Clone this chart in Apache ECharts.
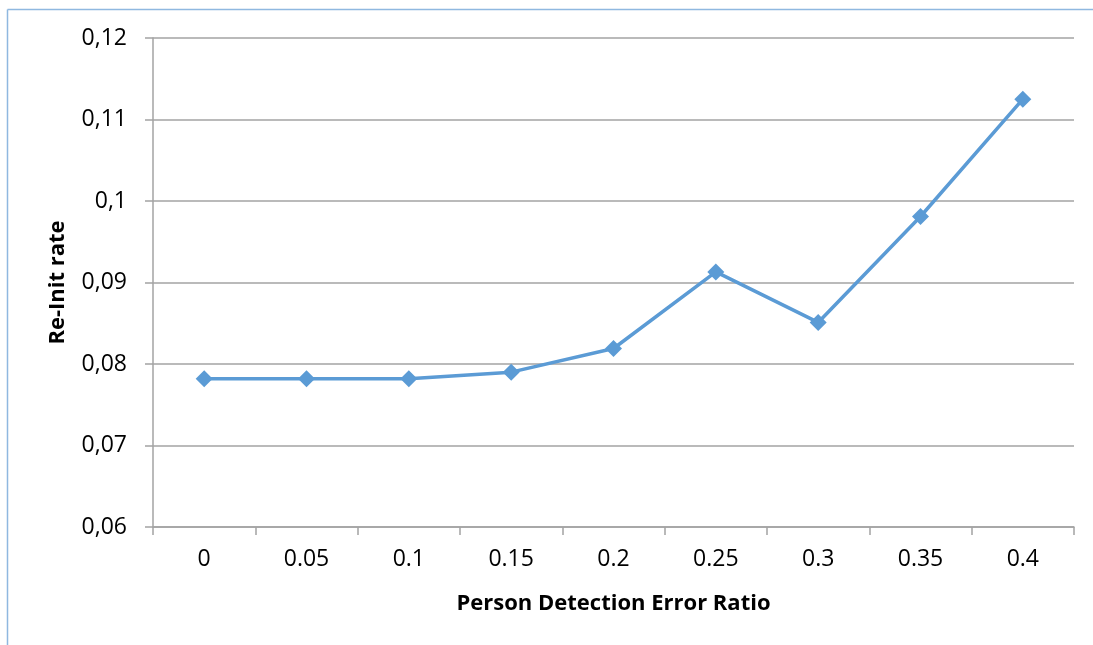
<!DOCTYPE html>
<html>
<head>
<meta charset="utf-8">
<script src="https://cdn.jsdelivr.net/npm/echarts@6/dist/echarts.min.js"></script>
<style>
html,body{margin:0;padding:0;background:#fff;}
#chart{width:1093px;height:645px;}
</style>
</head>
<body>
<div id="chart"></div>
<script>
const categories = ['0', '0.05', '0.1', '0.15', '0.2', '0.25', '0.3', '0.35', '0.4'];
const reInitRate = [0.0782, 0.0782, 0.0782, 0.0790, 0.0819, 0.0913, 0.0851, 0.0981, 0.1125];
const yMin = 0.06, yMax = 0.12, yStep = 0.01;
const xTitle = 'Person Detection Error Ratio';
const yTitle = 'Re-Init rate';

const chart = echarts.init(document.getElementById('chart'), null, {renderer: 'canvas'});
const font = '"Open Sans", "Noto Sans", sans-serif';
const gridColor = '#a3a3a3';
chart.setOption({
  animation: false,
  backgroundColor: '#ffffff',
  graphic: [
    {type: 'line', shape: {x1: 7.5, y1: 9.5, x2: 1093, y2: 9.5}, style: {stroke: '#8fb8e0', lineWidth: 1.5}},
    {type: 'line', shape: {x1: 7.5, y1: 9.5, x2: 7.5, y2: 645}, style: {stroke: '#8fb8e0', lineWidth: 1.5}}
  ],
  grid: {left: 153, right: 19, top: 38, bottom: 118},
  xAxis: {
    type: 'category',
    data: categories,
    boundaryGap: true,
    name: xTitle,
    nameLocation: 'middle',
    nameGap: 66,
    nameTextStyle: {fontFamily: font, fontSize: 22, fontWeight: 'bold', color: '#000'},
    axisLine: {lineStyle: {color: gridColor, width: 1.5}},
    axisTick: {show: true, length: 8, lineStyle: {color: gridColor, width: 1.5}},
    axisLabel: {fontFamily: font, fontSize: 23, color: '#000', margin: 21}
  },
  yAxis: {
    type: 'value',
    min: yMin, max: yMax, interval: yStep,
    name: yTitle,
    nameLocation: 'middle',
    nameGap: 84,
    nameTextStyle: {fontFamily: font, fontSize: 22, fontWeight: 'bold', color: '#000'},
    axisLine: {show: true, lineStyle: {color: gridColor, width: 1.5}},
    axisTick: {show: true, length: 8, lineStyle: {color: gridColor, width: 1.5}},
    axisLabel: {
      fontFamily: font, fontSize: 23, color: '#000', margin: 26,
      formatter: v => String(parseFloat(v.toFixed(2))).replace('.', ',')
    },
    splitLine: {show: true, lineStyle: {color: gridColor, width: 1.5}}
  },
  series: [{
    type: 'line',
    data: reInitRate,
    symbol: 'diamond',
    symbolSize: 17,
    lineStyle: {color: '#5b9bd5', width: 3.5},
    itemStyle: {color: '#5b9bd5'}
  }]
});
</script>
</body>
</html>
